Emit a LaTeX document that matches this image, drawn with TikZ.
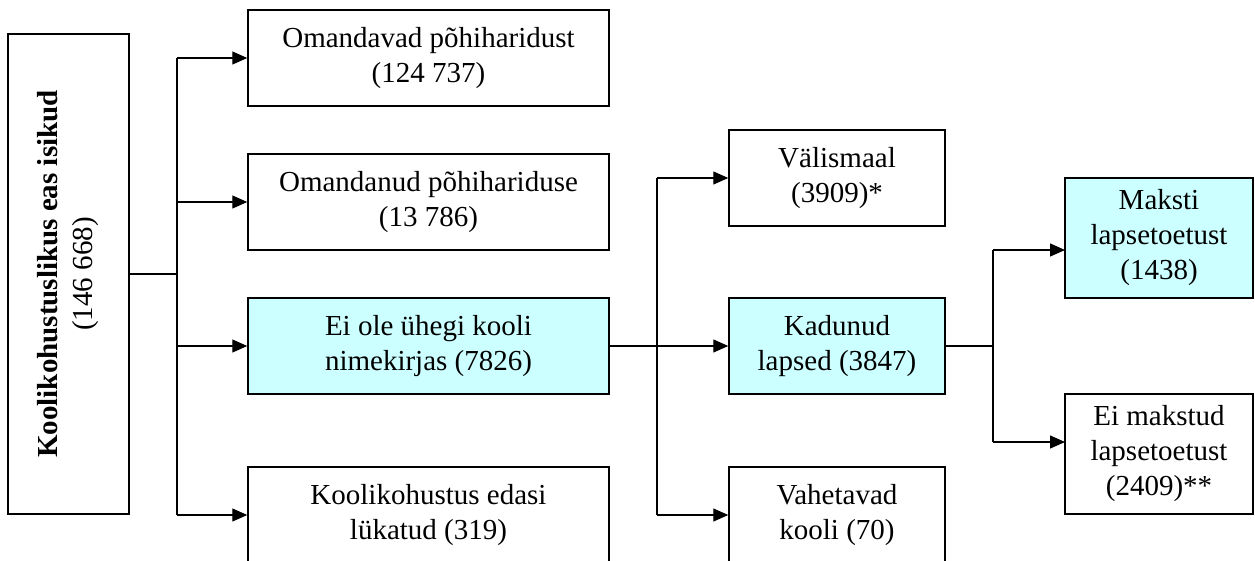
\documentclass[tikz,border=0pt]{standalone}
\usepackage{fontspec}
\setmainfont{Liberation Serif}
\usetikzlibrary{arrows.meta}
\definecolor{lightcyan}{HTML}{CCFFFF}
\tikzset{
  box/.style={draw=black, line width=1.5pt, fill=white, inner sep=2pt, align=center,
    font=\fontsize{29}{35}\selectfont},
  hl/.style={box, fill=lightcyan},
  wideb/.style={minimum width=361pt, minimum height=96pt},
  midb/.style={minimum width=216pt, minimum height=96pt},
  rightb/.style={minimum width=188pt, minimum height=120pt},
  conn/.style={line width=1.3pt},
  arr/.style={conn, -{Triangle[length=15pt,width=13pt]}}
}
\begin{document}
\begin{tikzpicture}[x=1pt,y=-1pt]
\useasboundingbox[fill=white] (0,0) rectangle (1255,560);
% left box
\node[box, minimum width=480pt, minimum height=121pt, rotate=90] (L) at (68.5,274)
  {\textbf{Koolikohustuslikus eas isikud}\\(146 668)};
% first column
\node[box, wideb] (a1) at (428.5,58) {Omandavad põhiharidust\\(124 737)};
\node[box, wideb] (a2) at (428.5,202) {Omandanud põhihariduse\\(13 786)};
\node[hl, wideb] (a3) at (428.5,346) {Ei ole ühegi kooli\\nimekirjas (7826)};
\node[box, wideb] (a4) at (428.5,515) {Koolikohustus edasi\\lükatud (319)};
% second column
\node[box, midb] (b1) at (837,178) {Välismaal\\(3909)*};
\node[hl, midb] (b2) at (837,346) {Kadunud\\lapsed (3847)};
\node[box, midb] (b3) at (837,515) {Vahetavad\\kooli (70)};
% third column
\node[hl, rightb] (c1) at (1159,238) {Maksti\\lapsetoetust\\(1438)};
\node[box, rightb] (c2) at (1159,454) {Ei makstud\\lapsetoetust\\(2409)**};
% fork coordinates
\coordinate (f1) at (177,274);
\coordinate (f2) at (657,346);
\coordinate (f3) at (993,346);
\coordinate (c1in) at (1065,250);
\coordinate (c2in) at (1065,442);
% fork 1
\draw[conn] (L.south) -- (f1);
\draw[conn] (f1 |- a1) -- (f1 |- a4);
\draw[arr] (f1 |- a1) -- (a1.west);
\draw[arr] (f1 |- a2) -- (a2.west);
\draw[arr] (f1 |- a3) -- (a3.west);
\draw[arr] (f1 |- a4) -- (a4.west);
% fork 2
\draw[conn] (a3.east) -- (f2);
\draw[conn] (f2 |- b1) -- (f2 |- b3);
\draw[arr] (f2 |- b1) -- (b1.west);
\draw[arr] (f2 |- b2) -- (b2.west);
\draw[arr] (f2 |- b3) -- (b3.west);
% fork 3
\draw[conn] (b2.east) -- (f3);
\draw[conn] (f3 |- c1in) -- (f3 |- c2in);
\draw[arr] (f3 |- c1in) -- (c1in);
\draw[arr] (f3 |- c2in) -- (c2in);
\end{tikzpicture}
\end{document}
